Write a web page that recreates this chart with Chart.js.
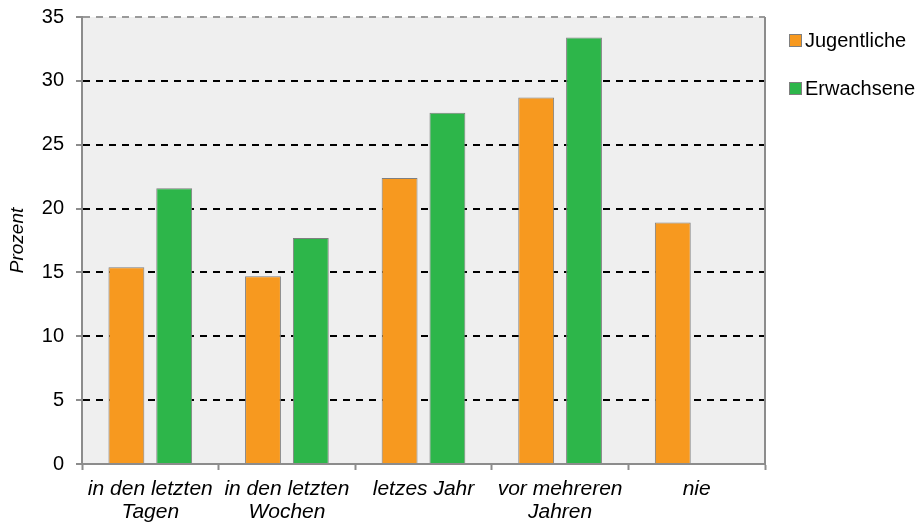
<!DOCTYPE html>
<html>
<head>
<meta charset="utf-8">
<script src="https://cdn.jsdelivr.net/npm/chart.js@4"></script>
<style>
  html, body { margin: 0; padding: 0; background: #fff; }
  #wrap { width: 924px; height: 526px; position: relative; }
</style>
</head>
<body>
<div id="wrap"><canvas id="umfrageChart"></canvas></div>
<script>
// Daten
const kategorien = [['in den letzten', 'Tagen'], ['in den letzten', 'Wochen'], 'letzes Jahr', ['vor mehreren', 'Jahren'], 'nie'];
const jugendliche = [15.4, 14.7, 22.4, 28.7, 18.9];
const erwachsene = [21.6, 17.7, 27.5, 33.4, null];
const yTicks = [0, 5, 10, 15, 20, 25, 30, 35];

const FONT = "'Liberation Sans', Arial, sans-serif";

// Hintergrund der Zeichenfläche + rechter Rand
const plotBg = {
  id: 'plotBg',
  beforeDraw(chart) {
    const { ctx, chartArea: a } = chart;
    ctx.save();
    ctx.fillStyle = '#efefef';
    ctx.fillRect(a.left, a.top, a.right - a.left, a.bottom - a.top);
    ctx.restore();
  },
  afterDraw(chart) {
    const { ctx, chartArea: a } = chart;
    ctx.save();
    ctx.strokeStyle = '#8c8c8c';
    ctx.lineWidth = 2;
    ctx.beginPath();
    ctx.moveTo(a.right, a.top);
    ctx.lineTo(a.right, a.bottom);
    ctx.stroke();
    ctx.restore();
  }
};

// Legende rechts (eigene Zeichnung)
const sideLegend = {
  id: 'sideLegend',
  afterDraw(chart) {
    const ctx = chart.ctx;
    ctx.save();
    ctx.font = '20px ' + FONT;
    ctx.textBaseline = 'middle';
    chart.data.datasets.forEach((ds, i) => {
      const y = 40 + i * 48;
      ctx.fillStyle = ds.backgroundColor;
      ctx.fillRect(789, y - 6, 13, 13);
      ctx.strokeStyle = '#7f7f7f';
      ctx.lineWidth = 1;
      ctx.strokeRect(789.5, y - 5.5, 12, 12);
      ctx.fillStyle = '#000';
      ctx.fillText(ds.label, 805, y + 1);
    });
    ctx.restore();
  }
};

const ctx = document.getElementById('umfrageChart').getContext('2d');
const chart = new Chart(ctx, {
  type: 'bar',
  data: {
    labels: kategorien,
    datasets: [
      {
        label: 'Jugentliche',
        data: jugendliche,
        backgroundColor: '#f7991f',
        borderColor: '#7f7f7f',
        borderWidth: 1,
        categoryPercentage: 0.7,
        barPercentage: 0.75
      },
      {
        label: 'Erwachsene',
        data: erwachsene,
        backgroundColor: '#2db64a',
        borderColor: '#7f7f7f',
        borderWidth: 1,
        categoryPercentage: 0.7,
        barPercentage: 0.75
      }
    ]
  },
  options: {
    responsive: true,
    maintainAspectRatio: false,
    animation: false,
    layout: { padding: { top: 17, right: 159, left: 0, bottom: 0 } },
    scales: {
      x: {
        grid: {
          offset: true,
          drawOnChartArea: false,
          drawTicks: true,
          tickLength: 6,
          tickColor: '#8c8c8c',
          tickWidth: 2
        },
        border: { color: '#8c8c8c', width: 2 },
        ticks: {
          color: '#000',
          padding: 8,
          maxRotation: 0,
          autoSkip: false,
          font: { family: FONT, size: 21, style: 'italic', lineHeight: 1.1 }
        },
        afterFit(scale) {
          scale.height = 62;
          scale.paddingLeft = 0;
          scale.paddingRight = 0;
        }
      },
      y: {
        min: 0,
        max: 35,
        afterBuildTicks(scale) { scale.ticks = yTicks.map(v => ({ value: v })); },
        grid: {
          color: (c) => {
            if (c.tick && c.tick.value === 0) return 'rgba(0,0,0,0)';
            if (c.tick && c.tick.value === 35) return '#9a9a9a';
            return '#000';
          },
          lineWidth: 2,
          drawTicks: true,
          tickLength: 6,
          tickColor: '#8c8c8c',
          tickWidth: 2
        },
        border: { color: '#8c8c8c', width: 2, dash: [7, 6] },
        ticks: {
          color: '#000',
          padding: 12,
          font: { family: FONT, size: 20 }
        },
        title: {
          display: true,
          text: 'Prozent',
          color: '#000',
          padding: { top: 6, bottom: 0 },
          font: { family: FONT, size: 19, style: 'italic' }
        },
        afterFit(scale) {
          scale.width = 82;
          scale.paddingTop = 0;
          scale.paddingBottom = 0;
        }
      }
    },
    plugins: {
      legend: { display: false },
      tooltip: { enabled: false }
    }
  },
  plugins: [plotBg, sideLegend]
});
</script>
</body>
</html>
